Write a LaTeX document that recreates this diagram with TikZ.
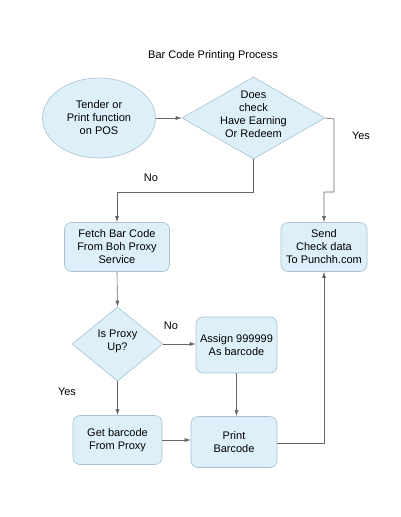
\documentclass[tikz,border=0pt]{standalone}
\usepackage{fontspec}
\setmainfont{Liberation Sans}
\usetikzlibrary{shapes.geometric,arrows.meta}
\definecolor{boxfill}{HTML}{DDF0FA}
\definecolor{boxdraw}{HTML}{A8C0D0}
\definecolor{linec}{HTML}{666666}
\begin{document}
\begin{tikzpicture}[x=1pt,y=-1pt,
  every node/.style={font=\fontsize{11}{13}\selectfont, align=center, inner sep=0pt},
  procbox/.style={draw=boxdraw, fill=boxfill, rounded corners=7pt, line width=0.6pt},
  decis/.style={draw=boxdraw, fill=boxfill, diamond, line width=0.6pt},
  startel/.style={draw=boxdraw, fill=boxfill, ellipse, line width=0.6pt},
  conn/.style={draw=linec, line width=0.6pt, -{Latex[length=6pt,width=4pt]}},
  plain/.style={draw=linec, line width=0.6pt}]
\useasboundingbox (0,0) rectangle (400,517);
\node (title) at (213,56) {Bar Code Printing Process};
\node[startel, minimum width=113pt, minimum height=80pt] (start) at (99,118) {Tender or\\Print function\\on POS};
\node[decis, minimum width=143pt, minimum height=82pt, aspect=1.75] (d1) at (253.5,118) {};
\node at (253.5,114) {Does\\check\\Have Earning\\Or Redeem};
\node[procbox, minimum width=105pt, minimum height=49pt] (fetch) at (117,247) {Fetch Bar Code\\From Boh Proxy\\Service};
\node[procbox, minimum width=86pt, minimum height=49pt] (send) at (324,247) {Send\\Check data\\To Punchh.com};
\node[decis, minimum width=91pt, minimum height=74pt, aspect=1.23] (d2) at (117.5,344) {};
\node at (117.5,341) {Is Proxy\\Up?};
\node[procbox, minimum width=81pt, minimum height=56pt] (assign) at (236.5,345) {Assign 999999\\As barcode};
\node[procbox, minimum width=89pt, minimum height=49pt] (get) at (117.5,440) {Get barcode\\From Proxy};
\node[procbox, minimum width=86pt, minimum height=51pt] (print) at (234,442) {Print\\Barcode};
\node (yes1) at (361,136) {Yes};
\node (no1) at (151,178) {No};
\node (no2) at (171,326) {No};
\node (yes2) at (67,392) {Yes};
\coordinate (a1) at (334,119);
\coordinate (a2) at (334,192);
\coordinate (a3) at (324,192);
\coordinate (b1) at (253.5,192);
\coordinate (b2) at (117,192);
\coordinate (c1) at (324,443);
\draw[conn] (start.east) -- (d1.west);
\draw[conn] (d1.east) -- (a1) -- (a2) -- (a3) -- (send.north);
\draw[conn] (d1.south) -- (b1) -- (b2) -- (fetch.north);
\draw[conn] (fetch.south) -- (d2.north);
\draw[conn] (d2.east) -- (assign.west |- d2.east);
\draw[conn] (d2.south) -- (get.north);
\draw[conn] (assign.south) -- (print.north -| assign.south);
\draw[conn] (get.east) -- (print.west |- get.east);
\draw[conn] (print.east |- c1) -- (c1) -- (send.south);
\end{tikzpicture}
\end{document}
